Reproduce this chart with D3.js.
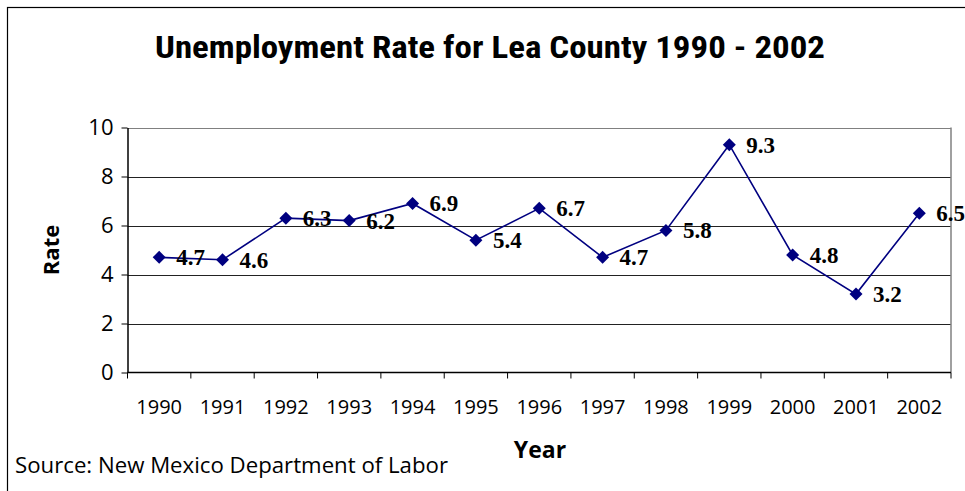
<!DOCTYPE html>
<html><head><meta charset="utf-8">
<script src="https://cdn.jsdelivr.net/npm/d3@7"></script>
<style>body{margin:0;background:#fff}svg{display:block}</style>
</head><body>
<script>
const years = ["1990","1991","1992","1993","1994","1995","1996","1997","1998","1999","2000","2001","2002"];
const rates = [4.7,4.6,6.3,6.2,6.9,5.4,6.7,4.7,5.8,9.3,4.8,3.2,6.5];
const yTicks = [0,2,4,6,8,10];
const title = "Unemployment Rate for Lea County 1990 - 2002";

const W=965,H=491;
const svg=d3.select("body").append("svg").attr("width",W).attr("height",H);
svg.append("rect").attr("x",7.5).attr("y",7.5).attr("width",W+10).attr("height",H+10)
  .attr("fill","#fff").attr("stroke","#000").attr("stroke-width",1.2);

const L=127.5,R=951,T=127.5,B=372.5;
const x=d3.scaleBand().domain(years).range([L,R]);
const y=d3.scaleLinear().domain([0,10]).range([B,T]);

// gridlines
svg.append("g").selectAll("line").data(yTicks.filter(d=>d>0)).join("line")
  .attr("x1",L).attr("x2",R).attr("y1",d=>Math.round(y(d))+0.5).attr("y2",d=>Math.round(y(d))+0.5)
  .attr("stroke",d=>d===10?"#808080":"#222").attr("stroke-width",1);
// right border
svg.append("line").attr("x1",R).attr("x2",R).attr("y1",T).attr("y2",B).attr("stroke","#808080").attr("stroke-width",1.5);

// y axis
const ya=svg.append("g").attr("transform",`translate(${L},0)`)
  .call(d3.axisLeft(y).tickValues(yTicks).tickSize(6).tickPadding(8).tickSizeOuter(0));
ya.select(".domain").attr("stroke","#000").attr("stroke-width",1.5);
ya.selectAll(".tick line").attr("stroke","#000");
ya.selectAll("text").attr("font-family","Open Sans, sans-serif").attr("font-size",22).attr("fill","#000");

// x axis
const xa=svg.append("g").attr("transform",`translate(0,${B})`);
xa.append("line").attr("x1",L).attr("x2",R).attr("y1",0).attr("y2",0).attr("stroke","#000").attr("stroke-width",1.5);
const edges=years.map(d=>x(d)).concat([R]);
xa.selectAll("line.t").data(edges).join("line").attr("class","t")
  .attr("x1",d=>d).attr("x2",d=>d).attr("y1",0).attr("y2",6).attr("stroke","#000");
xa.selectAll("text").data(years).join("text")
  .attr("x",d=>x(d)+x.bandwidth()/2).attr("y",41).attr("text-anchor","middle")
  .attr("font-family","Open Sans, sans-serif").attr("font-size",20).attr("fill","#000").text(d=>d);

// line
const cx=(d,i)=>x(years[i])+x.bandwidth()/2;
svg.append("path").datum(rates)
  .attr("d",d3.line().x((d,i)=>cx(d,i)).y(d=>y(d)))
  .attr("fill","none").attr("stroke","#000080").attr("stroke-width",1.6);
svg.append("g").selectAll("path").data(rates).join("path")
  .attr("transform",(d,i)=>`translate(${cx(d,i)},${y(d)})`)
  .attr("d","M0,-6.5L6.5,0L0,6.5L-6.5,0Z").attr("fill","#000080");
svg.append("g").selectAll("text").data(rates).join("text")
  .attr("x",(d,i)=>cx(d,i)+17).attr("y",d=>y(d)+8)
  .attr("font-family","Liberation Serif, Times New Roman, serif").attr("font-weight","bold")
  .attr("font-size",23).attr("fill","#000").text(d=>d.toFixed(1));

// titles
svg.append("text").attr("x",490).attr("y",58).attr("text-anchor","middle")
  .attr("font-family","Liberation Sans Narrow, Roboto Condensed, Open Sans, sans-serif").attr("font-weight","bold").attr("font-size",32)
  .attr("textLength",670).attr("lengthAdjust","spacingAndGlyphs").text(title);
svg.append("text").attr("transform",`translate(59,${(T+B)/2}) rotate(-90)`).attr("text-anchor","middle")
  .attr("font-family","Open Sans, sans-serif").attr("font-weight","bold").attr("font-size",22).text("Rate");
svg.append("text").attr("x",540).attr("y",458).attr("text-anchor","middle")
  .attr("font-family","Open Sans, sans-serif").attr("font-weight","bold").attr("font-size",23).text("Year");
svg.append("text").attr("x",15).attr("y",473)
  .attr("font-family","Open Sans, sans-serif").attr("font-size",21)
  .attr("textLength",433).attr("lengthAdjust","spacingAndGlyphs").text("Source: New Mexico Department of Labor");
</script>
</body></html>
